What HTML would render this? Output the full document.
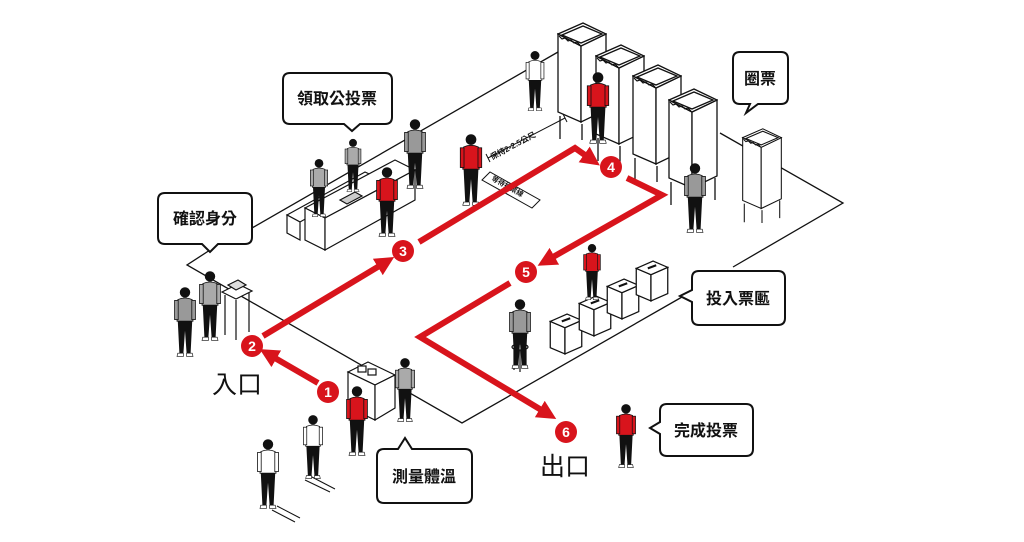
<!DOCTYPE html>
<html><head><meta charset="utf-8"><style>
html,body{margin:0;padding:0;background:#fff}
svg{display:block}
.t{font-family:"Liberation Sans","Noto Sans CJK TC",sans-serif;font-weight:bold;fill:#111}
.n{font-family:"Liberation Sans",sans-serif;font-weight:bold;fill:#fff;font-size:14px}
</style></head><body>
<svg width="1024" height="542" viewBox="0 0 1024 542" xmlns="http://www.w3.org/2000/svg">
<defs>
<marker id="ah" viewBox="0 0 10 10" refX="5" refY="5" markerWidth="3.2" markerHeight="3.2" orient="auto"><path d="M0,0 L10,5 L0,10 Z" fill="#d8141c"/></marker>
<symbol id="p" viewBox="0 0 30 90">
<circle cx="15" cy="8" r="6.5" fill="#111"/>
<path d="M6,17 Q15,13 24,17 L25,44 L5,44 Z" fill="currentColor" stroke="#111" stroke-width="1"/>
<rect x="2" y="18" width="4.5" height="24" fill="currentColor" stroke="#111" stroke-width="1"/>
<rect x="23.5" y="18" width="4.5" height="24" fill="currentColor" stroke="#111" stroke-width="1"/>
<path d="M6,44 L24,44 L22,84 L17,84 L15,56 L13,84 L8,84 Z" fill="#111"/>
<path d="M6,84 L13,84 L13,88 L5,88Z M17,84 L24,84 L25,88 L17,88Z" fill="#fff" stroke="#111" stroke-width="0.8"/>
</symbol>
<symbol id="b" viewBox="0 0 50 118">
<g fill="#fff" stroke="#111" stroke-width="1.3">
<path d="M3,94 V117 M25,102 V118 M47,90 V112"/>
<path d="M1,12 L24,24 L24,100 L1,90 Z"/>
<path d="M24,24 L49,12 L49,88 L24,100 Z"/>
<path d="M1,12 L26,1 L49,12 L24,24 Z"/>
<path d="M5,13 L26,4 L45,12 L24,21 Z"/>
</g>
<path d="M2,14 l3,3 l3,-1 l3,3 l3,-1 l3,3 l3,-1 l3,3" fill="none" stroke="#111" stroke-width="1.2"/>
</symbol>
<symbol id="x" viewBox="0 0 32 40">
<g fill="#fff" stroke="#111" stroke-width="1.2">
<path d="M1,8 L15,14 L15,39 L1,33Z"/>
<path d="M15,14 L31,7 L31,32 L15,39Z"/>
<path d="M1,8 L17,1 L31,7 L15,14Z"/>
</g>
<path d="M12,8 L20,5" stroke="#111" stroke-width="2"/>
</symbol>
</defs>

<!-- floor -->
<g fill="none" stroke="#111" stroke-width="1.3">
<path d="M210,250 L187,265 L462,423 L682,297"/>
<path d="M733,267 L843,203 L720,133"/>
<path d="M252,228 L558,52"/>
</g>

<!-- desk -->
<g fill="#fff" stroke="#111" stroke-width="1.2">
<path d="M287,215 L365,172 L378,178 L300,222Z"/>
<path d="M287,215 L300,222 L300,240 L287,233Z"/>
<path d="M305,208 L395,160 L415,170 L325,218Z"/>
<path d="M305,208 L325,218 L325,250 L305,240Z"/>
<path d="M325,218 L415,170 L415,200 L325,250Z"/>
<path d="M340,200 L355,192 L362,196 L347,204Z" fill="#ccc"/>
</g>
<!-- ID table -->
<g fill="#fff" stroke="#111" stroke-width="1.2">
<path d="M222,292 L238,284 L252,291 L236,299Z"/>
<path d="M225,295 V335 M236,300 V340 M249,293 V332"/>
<path d="M228,285 L238,280 L246,285 L236,290Z" fill="#ddd"/>
</g>
<!-- temp table -->
<g fill="#fff" stroke="#111" stroke-width="1.2">
<path d="M348,372 L368,362 L395,375 L375,385Z"/>
<path d="M348,372 L375,385 L375,420 L348,407Z"/>
<path d="M375,385 L395,375 L395,408 L375,420Z"/>
<rect x="358" y="366" width="8" height="6"/><rect x="368" y="369" width="8" height="6"/>
</g>
<!-- marks on floor -->
<g stroke="#111" stroke-width="1" fill="none">
<path d="M305,480 L330,492 M310,476 L335,489"/>
<path d="M272,510 L295,522 M277,506 L300,518"/>
</g>

<!-- booths -->
<use href="#b" x="557" y="22" width="50" height="118"/>
<use href="#b" x="595" y="44" width="50" height="118"/>
<use href="#b" x="632" y="64" width="50" height="118"/>
<use href="#b" x="668" y="88" width="50" height="118"/>
<use href="#b" x="737" y="128" width="50" height="95"/>
<!-- ballot boxes -->
<use href="#x" x="549" y="313" width="34" height="42"/>
<use href="#x" x="578" y="295" width="34" height="42"/>
<use href="#x" x="606" y="278" width="34" height="42"/>
<use href="#x" x="635" y="260" width="34" height="42"/>
<!-- stool -->
<g stroke="#111" fill="#fff" stroke-width="1.2"><ellipse cx="520" cy="347" rx="8" ry="3"/><path d="M514,349 V370 M520,350 V372 M526,349 V368"/></g>

<!-- people -->
<use href="#p" x="256" y="435" width="24" height="78" color="#fff"/>
<use href="#p" x="302" y="408" width="22" height="78" color="#fff"/>
<use href="#p" x="345" y="380" width="24" height="82" color="#d8141c"/>
<use href="#p" x="394" y="352" width="22" height="76" color="#aaa"/>
<use href="#p" x="173" y="283" width="24" height="78" color="#999"/>
<use href="#p" x="198" y="268" width="24" height="76" color="#aaa"/>
<use href="#p" x="308" y="158" width="22" height="60" color="#aaa"/>
<use href="#p" x="342" y="138" width="22" height="55" color="#aaa"/>
<use href="#p" x="403" y="115" width="24" height="78" color="#999"/>
<use href="#p" x="375" y="163" width="24" height="78" color="#d8141c"/>
<use href="#p" x="458" y="133" width="26" height="74" color="#d8141c"/>
<use href="#p" x="524" y="50" width="22" height="62" color="#fff"/>
<use href="#p" x="585" y="71" width="26" height="74" color="#d8141c"/>
<use href="#p" x="683" y="158" width="24" height="80" color="#999"/>
<use href="#p" x="580" y="243" width="24" height="58" color="#d8141c"/>
<use href="#p" x="508" y="298" width="24" height="72" color="#999"/>
<use href="#p" x="612" y="403" width="28" height="66" color="#d8141c"/>

<!-- sign -->
<g stroke="#111" stroke-width="1" fill="#fff">
<path d="M482,180 L490,172 L540,200 L532,208Z"/>
<path d="M488,158 L565,118 M486,154 L490,162 M563,114 L567,122" fill="none"/>
</g>
<text x="0" y="0" transform="translate(492,160) rotate(-28)" font-size="8" class="t">保持2-2.5公尺</text>
<text x="0" y="0" transform="translate(491,180) rotate(29)" font-size="7" class="t">等待投票線</text>

<!-- red path -->
<g fill="none" stroke="#d8141c" stroke-width="6" stroke-linejoin="miter">
<path d="M318,383 L268,354" marker-end="url(#ah)"/>
<path d="M263,336 L386,262" marker-end="url(#ah)"/>
<path d="M419,242 L575,148 L592,160" marker-end="url(#ah)"/>
<path d="M627,178 L662,195 L546,261" marker-end="url(#ah)"/>
<path d="M510,283 L420,337 L548,414" marker-end="url(#ah)"/>
</g>
<g fill="#d8141c">
<circle cx="328" cy="392" r="11"/><circle cx="252" cy="346" r="11"/><circle cx="403" cy="251" r="11"/>
<circle cx="611" cy="167" r="11"/><circle cx="526" cy="272" r="11"/><circle cx="566" cy="432" r="11"/>
</g>
<g class="n" text-anchor="middle">
<text x="328" y="397">1</text><text x="252" y="351">2</text><text x="403" y="256">3</text>
<text x="611" y="172">4</text><text x="526" y="277">5</text><text x="566" y="437">6</text>
</g>
<text x="212" y="393" font-size="25" style="font-family:'Liberation Sans','Noto Sans CJK TC',sans-serif;fill:#111">入口</text>
<text x="540" y="475" font-size="25" style="font-family:'Liberation Sans','Noto Sans CJK TC',sans-serif;fill:#111">出口</text>

<!-- bubbles -->
<g fill="#fff" stroke="#111" stroke-width="2">
<path d="M290,73 H385 Q392,73 392,80 V117 Q392,124 385,124 H360 L352,131 L344,124 H290 Q283,124 283,117 V80 Q283,73 290,73Z"/>
<path d="M165,193 H245 Q252,193 252,200 V237 Q252,244 245,244 H218 L210,252 L202,244 H165 Q158,244 158,237 V200 Q158,193 165,193Z"/>
<path d="M740,52 H781 Q788,52 788,59 V97 Q788,104 781,104 H758 L746,113 L750,104 H740 Q733,104 733,97 V59 Q733,52 740,52Z"/>
<path d="M699,271 H778 Q785,271 785,278 V318 Q785,325 778,325 H699 Q692,325 692,318 V302 L680,296 L692,290 V278 Q692,271 699,271Z"/>
<path d="M667,404 H746 Q753,404 753,411 V449 Q753,456 746,456 H667 Q660,456 660,449 V434 L650,428 L660,422 V411 Q660,404 667,404Z"/>
<path d="M384,449 H398 L405,438 L412,449 H465 Q472,449 472,456 V496 Q472,503 465,503 H384 Q377,503 377,496 V456 Q377,449 384,449Z"/>
</g>
<g class="t" font-size="16" text-anchor="middle">
<text x="337" y="104">領取公投票</text>
<text x="205" y="224">確認身分</text>
<text x="760" y="84">圈票</text>
<text x="738" y="304">投入票匭</text>
<text x="706" y="436">完成投票</text>
<text x="424" y="482">測量體溫</text>
</g>
</svg>
</body></html>
